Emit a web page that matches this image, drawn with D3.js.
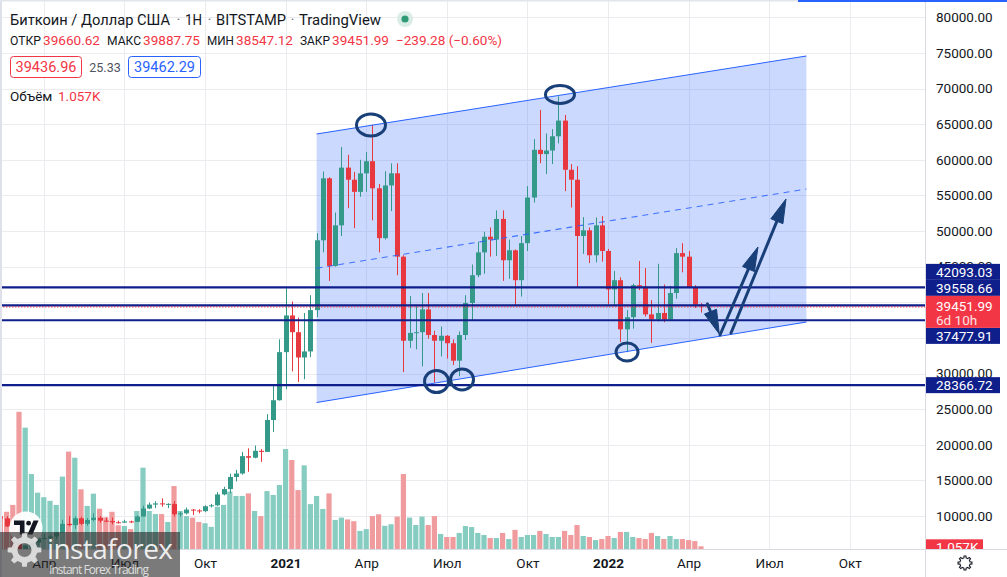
<!DOCTYPE html>
<html><head><meta charset="utf-8">
<script src="https://cdn.jsdelivr.net/npm/d3@7"></script>
<style>html,body{margin:0;padding:0;background:#fff;overflow:hidden}svg{display:block}</style>
</head><body><svg id="c" width="1007" height="577"></svg>
<script>
// ---------------- DATA ----------------
const dates = [
"2020-02-17","2020-02-24","2020-03-02","2020-03-09","2020-03-16","2020-03-23","2020-03-30","2020-04-06","2020-04-13","2020-04-20","2020-04-27",
"2020-05-04","2020-05-11","2020-05-18","2020-05-25","2020-06-01","2020-06-08","2020-06-15","2020-06-22","2020-06-29","2020-07-06","2020-07-13",
"2020-07-20","2020-07-27","2020-08-03","2020-08-10","2020-08-17","2020-08-24","2020-08-31","2020-09-07","2020-09-14","2020-09-21","2020-09-28",
"2020-10-05","2020-10-12","2020-10-19","2020-10-26","2020-11-02","2020-11-09","2020-11-16","2020-11-23","2020-11-30","2020-12-07","2020-12-14",
"2020-12-21","2020-12-28",
"2021-01-04","2021-01-11","2021-01-18","2021-01-25","2021-02-01","2021-02-08","2021-02-15","2021-02-22","2021-03-01","2021-03-08","2021-03-15",
"2021-03-22","2021-03-29","2021-04-05","2021-04-12","2021-04-19","2021-04-26","2021-05-03","2021-05-10","2021-05-17","2021-05-24","2021-05-31",
"2021-06-07","2021-06-14","2021-06-21","2021-06-28","2021-07-05","2021-07-12","2021-07-19","2021-07-26","2021-08-02","2021-08-09","2021-08-16",
"2021-08-23","2021-08-30","2021-09-06","2021-09-13","2021-09-20","2021-09-27","2021-10-04","2021-10-11","2021-10-18","2021-10-25","2021-11-01",
"2021-11-08","2021-11-15","2021-11-22","2021-11-29","2021-12-06","2021-12-13","2021-12-20","2021-12-27",
"2022-01-03","2022-01-10","2022-01-17","2022-01-24","2022-01-31","2022-02-07","2022-02-14","2022-02-21","2022-02-28","2022-03-07","2022-03-14",
"2022-03-21","2022-03-28","2022-04-04","2022-04-11","2022-04-18"];

const open = [
9930,9670,8530,8040,5360,5830,6250,6870,6900,7120,7700,8900,8720,9680,8900,9450,9760,9340,9290,9120,9070,9240,9180,9930,11050,11600,11770,11650,11700,10250,10370,10900,10780,10680,11370,11500,13030,13780,15480,15960,18400,18180,19150,19000,23470,26250,
33000,38150,35800,32250,33100,38900,48700,57400,45100,50800,58900,57200,55500,58100,59800,56000,49000,56400,58100,46400,34600,35700,35800,39000,35400,34600,35300,34250,31800,35400,39900,43800,47000,49200,48800,51700,45900,47300,43100,48300,54700,61400,60800,61300,63300,65500,58600,57200,49300,50100,46600,50800,
47200,41800,43100,36200,37900,42400,42200,38300,37600,38500,37600,41300,46900,46400,42100,39660.62];
const close = [
9670,8530,8040,5360,5830,6250,6870,6900,7120,7700,8900,8720,9680,8900,9450,9760,9340,9290,9120,9070,9240,9180,9930,11050,11600,11770,11650,11700,10250,10370,10900,10780,10680,11370,11500,13030,13780,15480,15960,18400,18180,19150,19000,23470,26250,33000,
38150,35800,32250,33100,38900,48700,57400,45100,50800,58900,57200,55500,58100,59800,56000,49000,56400,58100,46400,34600,35700,35800,39000,35400,34600,35300,34250,31800,35400,39900,43800,47000,49200,48800,51700,45900,47300,43100,48300,54700,61400,60800,61300,63300,65500,58600,57200,49300,50100,46600,50800,47200,
41800,43100,36200,37900,42400,42200,38300,37600,38500,37600,41300,46900,46400,42100,39660,39451.99];
const high = [
10300,9990,9190,8180,6900,6970,7190,7470,7300,7770,9480,10000,9950,9900,9700,10400,10000,9800,9780,9340,9470,9350,10100,11450,11900,12080,12480,11800,12100,10600,11180,10980,10950,11500,11700,13350,14100,15950,16480,19000,19500,19900,19400,24300,28400,34800,
41950,40100,37850,38500,41000,49700,58350,57550,52600,61800,60700,58300,60000,61100,64900,56600,58400,59500,59500,46600,40900,39400,41300,41300,36000,36600,35400,34800,35900,41000,45300,48500,49900,50500,52900,52900,48800,47400,49300,56300,62900,67000,63700,64300,68900,66300,59400,59100,51950,50500,51900,52100,
47500,44400,43500,38900,42600,45800,44800,40300,45400,42500,42300,47600,48300,47200,42400,39887.75];
const low = [
9300,8440,7850,3850,4450,5680,5860,6770,6500,6760,7650,8550,8200,8700,8630,9250,9050,9200,8830,8950,9050,9000,9150,9920,10950,11100,11300,11100,9900,9900,10200,10150,10380,10530,11200,11400,12900,13200,14850,15800,16200,18100,17600,19000,21800,26200,
27800,30300,28800,29200,32300,37900,47000,43000,45000,49300,53200,50400,54800,55500,51500,47000,48800,52800,43800,30200,33600,33400,31000,34900,28700,32400,32100,31200,29600,34700,37400,43500,44000,46400,46500,43000,43300,39600,40800,47200,54000,59500,58000,59400,62300,55600,53300,42100,46800,45500,45600,45700,
39700,39600,34400,33000,36300,41700,38000,34300,37300,37200,37500,40500,44200,42000,39200,38547.12];
// volume, thousands of BTC
const volume = [
12.9,14.6,17.3,53.8,47.6,29.4,22.1,20.3,18.9,17.3,28.4,38.2,35.8,23.4,16.9,21.7,15.8,12.4,14.6,9.3,9.0,7.8,14.9,31.9,14.9,13.7,13.7,10.6,24.7,14.9,12.9,12.3,10.6,10.1,8.7,16.6,17.3,22.5,20.8,20.8,21.8,14.9,12.9,22.7,21.2,25.1,
39.2,34.9,23.1,32.8,17.6,20.8,15.7,21.8,11.4,12.3,11.6,10.9,7.1,7.8,12.9,13.6,9.1,9.7,12.7,29.4,12.3,9.4,12.7,9.4,12.9,5.9,4.7,4.7,6.3,9.0,8.6,6.3,5.5,4.3,4.3,6.3,3.9,7.5,4.7,5.5,5.5,7.1,5.9,4.7,4.7,7.1,5.5,9.4,5.1,4.7,3.5,3.9,
5.1,4.3,6.7,6.7,4.7,4.3,3.9,6.3,5.1,3.9,5.1,3.9,3.9,3.5,3.1,1.057];

const priceTicks = [10000,15000,20000,25000,30000,35000,40000,45000,50000,55000,60000,65000,70000,75000,80000];
const timeTicks = ["2020-04-06","2020-07-06","2020-10-05","2021-01-04","2021-04-05","2021-07-05","2021-10-04","2022-01-03","2022-04-04","2022-07-04","2022-10-03"];
const timeTickLabels = ["Апр","Июл","Окт","2021","Апр","Июл","Окт","2022","Апр","Июл","Окт"];

const levelPrices = [42093.03, 39558.66, 37477.91, 28366.72];
const lastPrice = 39451.99;
const lastVolume = "1.057K";
const countdown = "6d 10h";

const channelDates = ["2021-02-08","2022-08-15"];
const channelUpper = [63620, 74570];
const channelLower = [25930, 37230];

const ellipseDates = ["2021-04-10T10:00:00Z","2021-11-09T19:00:00Z","2021-06-23T10:00:00Z","2021-07-22T05:00:00Z","2022-01-24T12:00:00Z"];
const ellipsePrices = [64885, 69166, 28880, 29160, 33020];

const arrowFromDates = ["2022-04-25T07:00:00Z","2022-05-09T11:00:00Z","2022-05-21T21:00:00Z"];
const arrowFromPrices = [39760, 35407, 35688];
const arrowToDates = ["2022-05-08T16:00:00Z","2022-06-21T08:00:00Z","2022-07-22T23:00:00Z"];
const arrowToPrices = [35547, 47760, 54497];

// ---------------- SETUP ----------------
const F = "Roboto, 'Noto Sans', sans-serif";
const W = 1007, H = 577, PW = 925, PH = 549;
const UP = "#35998a", DOWN = "#e8383f", VUP = "#86ccc1", VDOWN = "#f09b9d";
const NAVY = "#0e1e8a", MARK = "#183f78", BLUE = "#2962ff", TXT = "#131722", RED = "#f23645";

const parse = d3.utcParse("%Y-%m-%d");
const iso = d3.isoParse;
const DAY = 864e5, pxPerDay = 6.2 / 7;
const anchor = Date.UTC(2020, 2, 9);
const t0 = new Date(anchor - 19 / pxPerDay * DAY);
const t1 = new Date(t0.getTime() + PW / pxPerDay * DAY);
const x = d3.scaleUtc().domain([t0, t1]).range([0, PW]);
const y = d3.scaleLinear().domain([10000, 80000]).range([516, 17.3]);
const yv = d3.scaleLinear().domain([0, 60]).range([PH, PH - 153]);

const data = dates.map((d, i) => ({ t: parse(d), o: open[i], h: high[i], l: low[i], c: close[i], v: volume[i] }));

const svg = d3.select("#c").attr("font-family", F);
svg.append("rect").attr("width", W).attr("height", H).attr("fill", "#fff");
const defs = svg.append("defs");
defs.append("clipPath").attr("id", "plot").append("rect").attr("width", PW).attr("height", PH);
const plot = svg.append("g").attr("clip-path", "url(#plot)");

// grid
plot.append("g").selectAll("line").data(priceTicks).join("line")
  .attr("x1", 0).attr("x2", PW).attr("y1", d => Math.round(y(d)) + 0.5).attr("y2", d => Math.round(y(d)) + 0.5)
  .attr("stroke", "#ececf0");
plot.append("g").selectAll("line").data(timeTicks).join("line")
  .attr("y1", 0).attr("y2", PH).attr("x1", d => Math.round(x(parse(d))) + 0.5).attr("x2", d => Math.round(x(parse(d))) + 0.5)
  .attr("stroke", "#ececf0");

// channel fill (under the series)
const cx0 = x(parse(channelDates[0])), cx1 = x(parse(channelDates[1]));
const cu0 = y(channelUpper[0]), cu1 = y(channelUpper[1]), cl0 = y(channelLower[0]), cl1 = y(channelLower[1]);
plot.append("path").attr("d", `M${cx0},${cu0}L${cx1},${cu1}L${cx1},${cl1}L${cx0},${cl0}Z`)
  .attr("fill", "rgba(41,98,255,0.24)");

// volume
plot.append("g").selectAll("rect").data(data).join("rect")
  .attr("x", d => x(d.t) - 2.6).attr("width", 5.2)
  .attr("y", d => yv(d.v)).attr("height", d => PH - yv(d.v))
  .attr("fill", d => d.c >= d.o ? VUP : VDOWN);

// candles
const cg = plot.append("g");
cg.selectAll("line").data(data).join("line")
  .attr("x1", d => Math.round(x(d.t)) + 0.5).attr("x2", d => Math.round(x(d.t)) + 0.5)
  .attr("y1", d => y(d.h)).attr("y2", d => y(d.l))
  .attr("stroke", d => d.c >= d.o ? UP : DOWN).attr("stroke-width", 1);
cg.selectAll("rect").data(data).join("rect")
  .attr("x", d => Math.round(x(d.t)) - 2).attr("width", 5)
  .attr("y", d => y(Math.max(d.o, d.c))).attr("height", d => Math.max(1, Math.abs(y(d.o) - y(d.c))))
  .attr("fill", d => d.c >= d.o ? UP : DOWN);

// channel lines
plot.append("line").attr("x1", cx0).attr("y1", cu0).attr("x2", cx1).attr("y2", cu1).attr("stroke", BLUE).attr("stroke-width", 1.1);
plot.append("line").attr("x1", cx0).attr("y1", cl0).attr("x2", cx1).attr("y2", cl1).attr("stroke", BLUE).attr("stroke-width", 1.1);
plot.append("line").attr("x1", cx0).attr("y1", (cu0 + cl0) / 2).attr("x2", cx1).attr("y2", (cu1 + cl1) / 2)
  .attr("stroke", BLUE).attr("stroke-width", 1.1).attr("stroke-dasharray", "6,5").attr("opacity", 0.85);

// horizontal levels
plot.append("g").selectAll("line").data(levelPrices).join("line")
  .attr("x1", 0).attr("x2", PW).attr("y1", d => y(d)).attr("y2", d => y(d))
  .attr("stroke", NAVY).attr("stroke-width", 2.2);
plot.append("line").attr("x1", 0).attr("x2", PW).attr("y1", y(lastPrice) + 0.8).attr("y2", y(lastPrice) + 0.8)
  .attr("stroke", RED).attr("stroke-width", 1).attr("stroke-dasharray", "1.5,1.5");

// ellipses
const ellR = [[14.5, 11], [14.5, 9], [12, 11], [11.5, 10.5], [11, 9]];
plot.append("g").selectAll("ellipse").data(ellipseDates).join("ellipse")
  .attr("cx", d => x(iso(d))).attr("cy", (d, i) => y(ellipsePrices[i]))
  .attr("rx", (d, i) => ellR[i][0]).attr("ry", (d, i) => ellR[i][1])
  .attr("fill", "none").attr("stroke", MARK).attr("stroke-width", 3);

// arrows
const ag = plot.append("g");
arrowFromDates.forEach((d, i) => {
  const xa = x(iso(d)), ya = y(arrowFromPrices[i]);
  const xb = x(iso(arrowToDates[i])), yb = y(arrowToPrices[i]);
  const len = Math.hypot(xb - xa, yb - ya), ux = (xb - xa) / len, uy = (yb - ya) / len;
  const hl = 24, hw = 6.5;
  const bx = xb - ux * hl, by = yb - uy * hl;
  ag.append("line").attr("x1", xa).attr("y1", ya).attr("x2", bx + ux * 2).attr("y2", by + uy * 2)
    .attr("stroke", MARK).attr("stroke-width", 3).attr("stroke-linecap", "round");
  ag.append("path").attr("d", `M${xb},${yb}L${bx - uy * hw},${by + ux * hw}L${bx + uy * hw},${by - ux * hw}Z`)
    .attr("fill", MARK).attr("stroke", MARK).attr("stroke-width", 1).attr("stroke-linejoin", "round");
});

// ---------------- HEADER ----------------
const hd = svg.append("g");
const t1s = [["Биткоин / Доллар США", 10, TXT, 160], ["·", 178.5, "#787b86", 0], ["1H", 185, TXT, 17], ["·", 209.5, "#787b86", 0],
  ["BITSTAMP", 216, TXT, 70], ["·", 292.5, "#787b86", 0], ["TradingView", 299, TXT, 82]];
t1s.forEach(([s, xx, col, tl]) => {
  const t = hd.append("text").attr("x", xx).attr("y", 25).attr("font-size", 15.5)
    .attr("text-anchor", tl ? "start" : "middle").attr("fill", col).text(s);
  if (tl) t.attr("textLength", tl).attr("lengthAdjust", "spacingAndGlyphs");
});
hd.append("circle").attr("cx", 405).attr("cy", 19).attr("r", 8).attr("fill", "#d9ede6");
hd.append("circle").attr("cx", 405).attr("cy", 19).attr("r", 3.6).attr("fill", "#2f9a76");
const t2s = [["ОТКР", 10, TXT, 31], ["39660.62", 43, RED, 57], ["МАКС", 107, TXT, 34], ["39887.75", 143, RED, 57], ["МИН", 207, TXT, 27],
  ["38547.12", 236, RED, 57], ["ЗАКР", 300, TXT, 30], ["39451.99", 332, RED, 57], ["−239.28 (−0.60%)", 396, RED, 106]];
t2s.forEach(([s, xx, col, tl]) => hd.append("text").attr("x", xx).attr("y", 45).attr("font-size", 13.5).attr("fill", col)
  .attr("textLength", tl).attr("lengthAdjust", "spacingAndGlyphs").text(s));
hd.append("rect").attr("x", 10.5).attr("y", 56.5).attr("width", 71).attr("height", 21).attr("rx", 3).attr("fill", "#fff").attr("stroke", RED);
hd.append("text").attr("x", 46).attr("y", 72).attr("font-size", 14.5).attr("text-anchor", "middle").attr("fill", RED).text("39436.96");
hd.append("text").attr("x", 105).attr("y", 72).attr("font-size", 12.5).attr("text-anchor", "middle").attr("fill", "#50535e").text("25.33");
hd.append("rect").attr("x", 128.5).attr("y", 56.5).attr("width", 72).attr("height", 21).attr("rx", 3).attr("fill", "#fff").attr("stroke", BLUE);
hd.append("text").attr("x", 164.5).attr("y", 72).attr("font-size", 14.5).attr("text-anchor", "middle").attr("fill", BLUE).text("39462.29");
hd.append("text").attr("x", 10).attr("y", 101).attr("font-size", 13.5).attr("fill", TXT).text("Объём");
hd.append("text").attr("x", 58).attr("y", 101).attr("font-size", 13.5).attr("fill", RED).text(lastVolume);

// ---------------- WATERMARK (TV logo) ----------------
const wm = svg.append("g");
wm.append("circle").attr("cx", 26).attr("cy", 528).attr("r", 16.5).attr("fill", "#fff").attr("opacity", 0.95);
wm.append("path").attr("d", "M14,520.5h10.5v14h-4.6v-9.4h-5.9z").attr("fill", TXT);
wm.append("circle").attr("cx", 28.6).attr("cy", 523.2).attr("r", 2.4).attr("fill", TXT);
wm.append("path").attr("d", "M27.5,534.5L33.5,520.5h5L32.5,534.5z").attr("fill", TXT);

// ---------------- AXES ----------------
svg.append("rect").attr("x", PW).attr("y", 0).attr("width", W - PW).attr("height", H).attr("fill", "#fff");
const visibleTicks = priceTicks.filter(p => p !== 40000 && p !== 35000); // those sit fully under the level labels
const ay = svg.append("g").attr("transform", `translate(${PW},0)`)
  .call(d3.axisRight(y).tickValues(visibleTicks).tickFormat(d3.format(".2f")).tickSize(0).tickPadding(11));
ay.select(".domain").remove();
ay.selectAll("text").attr("font-family", F).attr("font-size", 13.5).attr("fill", TXT);

// price labels with stacking
const lblH = 16;
const lastTop = y(lastPrice) - 10.3, lastBot = lastTop + 32;
const above = levelPrices.filter(p => p > lastPrice).sort((a, b) => a - b);
const below = levelPrices.filter(p => p < lastPrice).sort((a, b) => b - a);
const boxes = [];
let lim = lastTop;
above.forEach(p => { const bot = Math.min(y(p) + lblH / 2, lim); boxes.push({ p, top: bot - lblH }); lim = bot - lblH; });
lim = lastBot;
below.forEach(p => { const top = Math.max(y(p) - lblH / 2, lim); boxes.push({ p, top }); lim = top + lblH; });
const lg = svg.append("g");
boxes.forEach(b => {
  lg.append("rect").attr("x", PW).attr("y", b.top).attr("width", 75).attr("height", lblH).attr("fill", NAVY);
  lg.append("text").attr("x", 936).attr("y", b.top + lblH / 2 + 4.7).attr("font-size", 13.5).attr("fill", "#fff").text(d3.format(".2f")(b.p));
});
lg.append("rect").attr("x", PW).attr("y", lastTop).attr("width", 75).attr("height", 32).attr("fill", RED);
lg.append("text").attr("x", 936).attr("y", lastTop + 15).attr("font-size", 13.5).attr("fill", "#fff").text(d3.format(".2f")(lastPrice));
lg.append("text").attr("x", 936).attr("y", lastTop + 29.5).attr("font-size", 13.5).attr("fill", "#fff").attr("opacity", 0.85).text(countdown);
lg.append("rect").attr("x", PW).attr("y", yv(volume[volume.length - 1]) - 7).attr("width", 58).attr("height", 16).attr("fill", RED);
lg.append("text").attr("x", 936).attr("y", yv(volume[volume.length - 1]) + 5.5).attr("font-size", 13.5).attr("fill", "#fff").text(lastVolume);

// time axis
svg.append("rect").attr("x", 0).attr("y", PH).attr("width", W).attr("height", H - PH).attr("fill", "#fff");
const ax = svg.append("g").attr("transform", `translate(0,${PH})`)
  .call(d3.axisBottom(x).tickValues(timeTicks.map(parse)).tickFormat((d, i) => timeTickLabels[i]).tickSize(0).tickPadding(9));
ax.select(".domain").remove();
ax.selectAll("text").attr("font-family", F).attr("font-size", 13.5).attr("fill", TXT)
  .attr("font-weight", (d, i) => /^\d+$/.test(timeTickLabels[i]) ? 700 : 400);

// separators & borders
svg.append("line").attr("x1", 0).attr("x2", W).attr("y1", PH + 0.5).attr("y2", PH + 0.5).attr("stroke", "#d9dbe3");
svg.append("line").attr("x1", PW + 0.5).attr("x2", PW + 0.5).attr("y1", 0).attr("y2", H).attr("stroke", "#d9dbe3");
svg.append("rect").attr("x", 0).attr("y", 0).attr("width", 2).attr("height", H).attr("fill", "#dfe1ea");
svg.append("rect").attr("x", 0).attr("y", 0).attr("width", 798).attr("height", 1.5).attr("fill", "#e3e5ec");
svg.append("rect").attr("x", 798).attr("y", 0).attr("width", W - 798).attr("height", 2).attr("fill", BLUE);

// settings icon
function gear(cx, cy, ro, ri, n) {
  const pts = [];
  for (let i = 0; i < n; i++) {
    const a = i / n * 2 * Math.PI, s = Math.PI / n;
    [[a - s * 0.55, ri], [a - s * 0.35, ro], [a + s * 0.35, ro], [a + s * 0.55, ri], [a + s * 1.45, ri]].forEach(([aa, r]) => pts.push([cx + r * Math.cos(aa), cy + r * Math.sin(aa)]));
  }
  return "M" + pts.map(p => p.join(",")).join("L") + "Z";
}
svg.append("path").attr("d", gear(965, 563, 7, 5.2, 8)).attr("fill", "none").attr("stroke", TXT).attr("stroke-width", 1.1);

// ---------------- instaforex band (on top of everything) ----------------
const wm2 = svg.append("g");
wm2.append("rect").attr("x", 0).attr("y", 532).attr("width", 180).attr("height", 45).attr("fill", "rgba(40,40,40,0.62)");
wm2.append("path").attr("d", gear(24.5, 550, 17, 13, 8) + `M${24.5 + 7},550a7,7 0 1,0 -14,0a7,7 0 1,0 14,0Z`)
  .attr("fill", "rgba(235,235,235,0.85)").attr("fill-rule", "evenodd");
wm2.append("text").attr("x", 47).attr("y", 559).attr("font-family", "'Open Sans', sans-serif").attr("font-size", 28)
  .attr("fill", "rgba(245,245,245,0.95)").attr("textLength", 126).text("instaforex");
wm2.append("text").attr("x", 49).attr("y", 574).attr("font-family", "'Open Sans', sans-serif").attr("font-size", 12)
  .attr("fill", "rgba(235,235,235,0.9)").attr("textLength", 100).text("Instant Forex Trading");
</script></body></html>
